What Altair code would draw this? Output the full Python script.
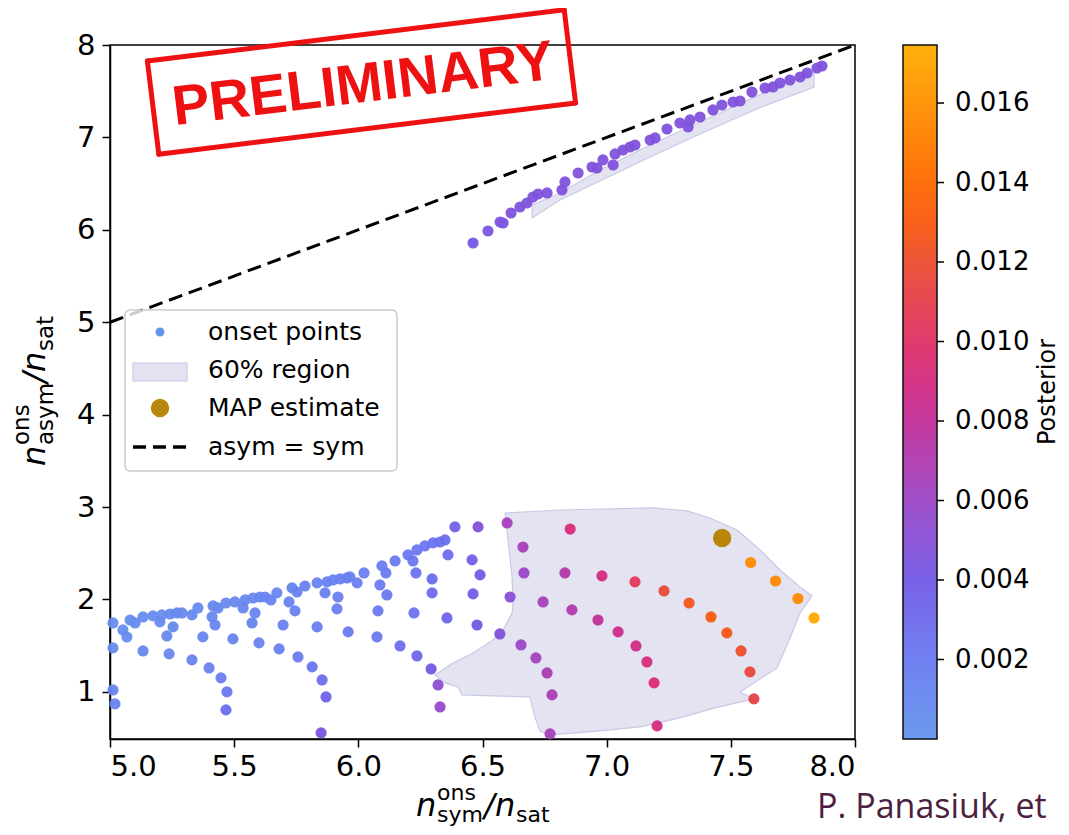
import altair as alt
import pandas as pd

# ---------------- data ----------------
# lower cluster, left part (upper envelope and nearby)
A_x = [5.012,5.052,5.068,5.081,5.101,5.133,5.173,5.201,5.209,5.242,5.270,5.290,5.330,5.354,5.411,5.415,5.423,5.435,5.467,5.503,
       5.536,5.544,5.576,5.584,5.604,5.624,5.648,5.672,5.721,5.733,5.745,5.753,5.785,5.834,5.866,5.874,5.898,5.918,5.926,5.954,
       5.966,5.995,6.023,6.087,6.095,6.111,6.115,6.148,6.200,6.220,6.232,6.236,6.268,6.297,6.297,6.301,6.329,6.349,6.361,6.389,
       6.458,6.462,6.478,6.482,6.490,6.599,6.611,6.570]
A_y = [1.746,1.670,1.594,1.778,1.746,1.811,1.822,1.757,1.833,1.843,1.854,1.854,1.833,1.908,1.811,1.930,1.724,1.908,1.962,1.973,
       1.908,1.995,2.016,1.854,2.027,2.027,1.995,2.071,1.973,2.125,1.876,2.081,2.146,2.179,2.071,2.190,2.211,2.027,2.222,2.233,
       2.244,2.179,2.287,2.157,2.363,2.287,2.049,2.417,2.482,2.417,2.287,2.536,2.579,2.222,2.071,2.612,2.622,2.644,2.482,2.785,
       2.428,2.060,1.724,2.785,2.266,2.828,2.027,1.627]
A_p = [0.0006,0.0007,0.0007,0.0006,0.0007,0.0007,0.0007,0.0008,0.0007,0.0008,0.0008,0.0008,0.0009,0.0008,0.0010,0.0009,0.0011,0.0009,0.0009,0.0010,
       0.0011,0.0010,0.0010,0.0012,0.0011,0.0011,0.0012,0.0011,0.0013,0.0012,0.0014,0.0013,0.0013,0.0013,0.0015,0.0014,0.0014,0.0016,0.0014,0.0015,
       0.0015,0.0016,0.0016,0.0019,0.0018,0.0019,0.0021,0.0019,0.0020,0.0022,0.0024,0.0022,0.0023,0.0027,0.0029,0.0024,0.0025,0.0026,0.0028,0.0035,
       0.0036,0.0038,0.0042,0.0048,0.0038,0.0065,0.0052,0.0048]

# lower cluster, descending arcs on the left
B_x = [5.012,5.133,5.238,5.229,5.254,5.330,5.374,5.399,5.447,5.471,5.467,5.495,5.572,5.600,5.681,5.697,5.757,5.814,5.834,5.854,
       5.870,5.850,5.914,5.959,6.075,6.079,6.168,6.224,6.236,6.293,6.321,6.329,6.357,5.012,5.020]
B_y = [1.476,1.443,1.411,1.605,1.703,1.346,1.595,1.259,1.151,1.000,0.805,1.573,1.746,1.530,1.465,1.724,1.378,1.270,1.703,1.129,
       0.945,0.556,1.898,1.649,1.595,1.876,1.497,1.854,1.389,1.248,1.075,0.837,1.800,1.021,0.870]
B_p = [0.0008,0.0009,0.0010,0.0009,0.0009,0.0012,0.0011,0.0014,0.0018,0.0022,0.0028,0.0012,0.0012,0.0014,0.0016,0.0014,0.0019,0.0023,0.0016,0.0028,
       0.0034,0.0045,0.0016,0.0019,0.0022,0.0020,0.0028,0.0025,0.0033,0.0042,0.0052,0.0058,0.0032,0.0012,0.0014]

# lower cluster, right part (pink / red / orange)
C_x = [6.853,6.663,6.667,6.832,6.981,7.114,7.231,7.332,7.420,7.484,7.541,7.577,7.593,6.744,6.860,6.965,7.046,7.118,7.162,7.191,
       7.203,6.655,6.715,6.760,6.780,6.772,7.580,7.680,7.770,7.835]
C_y = [2.762,2.567,2.287,2.287,2.255,2.190,2.092,1.962,1.811,1.638,1.443,1.216,0.924,1.973,1.887,1.778,1.649,1.497,1.324,1.097,
       0.632,1.508,1.367,1.205,0.967,0.545,2.400,2.200,2.010,1.800]
C_p = [0.0092,0.0065,0.0060,0.0072,0.0090,0.0105,0.0118,0.0126,0.0131,0.0128,0.0121,0.0116,0.0112,0.0065,0.0071,0.0080,0.0085,0.0089,0.0092,0.0095,
       0.0090,0.0060,0.0064,0.0069,0.0068,0.0066,0.0157,0.0156,0.0157,0.0172]

# upper branch (close to asym = sym)
D_x = [6.462,6.522,6.571,6.583,6.615,6.651,6.679,6.703,6.724,6.760,6.820,6.832,6.885,6.941,6.961,6.985,7.026,7.034,7.066,7.094,
       7.114,7.175,7.195,7.243,7.295,7.328,7.336,7.376,7.428,7.464,7.509,7.537,7.585,7.638,7.670,7.698,7.738,7.779,7.807,7.847,7.867]
D_y = [5.857,5.987,6.085,6.074,6.182,6.247,6.290,6.355,6.388,6.399,6.431,6.518,6.615,6.680,6.669,6.756,6.702,6.821,6.864,6.896,
       6.918,6.972,6.994,7.091,7.156,7.113,7.189,7.221,7.297,7.351,7.383,7.394,7.491,7.535,7.546,7.589,7.621,7.654,7.697,7.751,7.773]
D_p = [0.0042,0.0044,0.0045,0.0045,0.0046,0.0046,0.0046,0.0047,0.0047,0.0047,0.0047,0.0047,0.0047,0.0047,0.0047,0.0047,0.0047,0.0047,0.0047,0.0047,
       0.0047,0.0047,0.0047,0.0047,0.0047,0.0047,0.0047,0.0047,0.0047,0.0047,0.0047,0.0047,0.0047,0.0047,0.0047,0.0047,0.0047,0.0047,0.0047,0.0047,0.0047]

# 60% credible region (two polygons)
R1_x = [6.591,6.812,7.187,7.324,7.416,7.525,7.618,7.698,7.779,7.827,7.779,7.730,7.686,7.537,7.593,7.436,7.295,7.134,6.973,6.772,
        6.731,6.711,6.691,6.417,6.401,6.349,6.309,6.381,6.462,6.542,6.583,6.619,6.623,6.619,6.603]
R1_y = [2.935,2.968,2.990,2.958,2.882,2.752,2.536,2.319,2.136,2.038,1.854,1.530,1.259,0.999,0.924,0.826,0.718,0.621,0.577,0.534,
        0.577,0.729,0.945,0.967,1.054,1.097,1.183,1.313,1.421,1.562,1.670,1.854,1.962,2.244,2.644]
R2_x = [6.700,6.812,6.973,7.175,7.376,7.614,7.835,7.835,7.614,7.376,7.175,6.973,6.812,6.700]
R2_y = [6.268,6.398,6.647,6.918,7.167,7.459,7.708,7.545,7.318,7.037,6.788,6.528,6.323,6.128]

MAP_X = [7.465]
MAP_Y = [2.665]
DIAG_X = [5.0, 8.0]
DIAG_Y = [5.0, 8.0]

X_TICKS = [5.0, 5.5, 6.0, 6.5, 7.0, 7.5, 8.0]
Y_TICKS = [1, 2, 3, 4, 5, 6, 7, 8]
CB_TICKS = [0.002, 0.004, 0.006, 0.008, 0.010, 0.012, 0.014, 0.016]
P_MAX = 0.01746
STOPS = [0.0, 0.002, 0.004, 0.006, 0.008, 0.0095, 0.0115, 0.0135, P_MAX]
STOP_COLORS = ["#6495ED", "#6A7AF0", "#7159E6", "#9C46C6", "#C22E98", "#DC2A74", "#E6463E", "#FF5F00", "#FFAD00"]
LEG_LABELS = ["onset points", "60% region", "MAP estimate", "asym = sym"]

FONT = "DejaVu Sans"

# ---------------- tables ----------------
pts = pd.DataFrame({"x": A_x + B_x + C_x + D_x,
                    "y": A_y + B_y + C_y + D_y,
                    "p": A_p + B_p + C_p + D_p})
reg = pd.DataFrame({"x": R1_x + R2_x, "y": R1_y + R2_y,
                    "g": ["a"] * len(R1_x) + ["b"] * len(R2_x),
                    "i": list(range(len(R1_x))) + list(range(len(R2_x)))})
mapdf = pd.DataFrame({"x": MAP_X, "y": MAP_Y})
diag = pd.DataFrame({"x": DIAG_X, "y": DIAG_Y})
one = pd.DataFrame({"a": [0]})

xs = alt.Scale(domain=[5, 8], nice=False, zero=False)
ys = alt.Scale(domain=[0.49, 8], nice=False, zero=False)
X = alt.X("x:Q", scale=xs, axis=alt.Axis(values=X_TICKS, format=".1f", title=None, labelPadding=5))
Y = alt.Y("y:Q", scale=ys, axis=alt.Axis(values=Y_TICKS, format="d", title=None, labelPadding=7))

region = alt.Chart(reg).mark_line(interpolate="linear-closed", fill="#E3E3F2", stroke="#C9C9E6",
                                  strokeWidth=1.2).encode(x=X, y=Y, order="i:Q", detail="g:N")

points = alt.Chart(pts).mark_circle(size=125, opacity=0.95).encode(
    x=X, y=Y,
    color=alt.Color("p:Q",
                    scale=alt.Scale(domain=STOPS, range=STOP_COLORS, interpolate="rgb"),
                    legend=alt.Legend(orient="none", legendX=793, legendY=0, direction="vertical",
                                      gradientLength=694, gradientThickness=34, values=CB_TICKS,
                                      format=".3f", labelFont=FONT, labelFontSize=26, labelOffset=18,
                                      labelColor="black", title=None, gradientStrokeColor="black",
                                      gradientStrokeWidth=1.5, labelOverlap=False)))

mappt = alt.Chart(mapdf).mark_circle(size=336, color="#B8860B", opacity=1).encode(x=X, y=Y)
diagline = alt.Chart(diag).mark_line(color="black", strokeDash=[14, 7], strokeWidth=3).encode(x=X, y=Y)

inner = alt.layer(region, points, mappt, diagline)

# colorbar tick marks
cbt = alt.Chart(pd.DataFrame({"v": CB_TICKS})).mark_rule(color="black", strokeWidth=1.5).encode(
    x=alt.value(827), x2=alt.value(834),
    y=alt.Y("v:Q", scale=alt.Scale(domain=[0, P_MAX], nice=False), axis=None))

# in-plot legend
layers = []
layers.append(alt.Chart(one).mark_rect(cornerRadius=5, fill="white", fillOpacity=0.8, stroke="#CCCCCC",
                                       strokeWidth=1.5).encode(x=alt.value(15), x2=alt.value(287),
                                                               y=alt.value(265), y2=alt.value(426)))
layers.append(alt.Chart(one).mark_circle(size=80, color="#6495ED", opacity=1).encode(x=alt.value(50), y=alt.value(287)))
layers.append(alt.Chart(one).mark_rect(fill="#E3E3F2", stroke="#C9C9E6", strokeWidth=1.2).encode(
    x=alt.value(23), x2=alt.value(77), y=alt.value(318), y2=alt.value(336)))
layers.append(alt.Chart(one).mark_circle(size=336, color="#B8860B", opacity=1).encode(x=alt.value(50), y=alt.value(363)))
layers.append(alt.Chart(one).mark_rule(color="black", strokeDash=[13, 7], strokeWidth=3.5).encode(
    x=alt.value(23), x2=alt.value(77), y=alt.value(402)))
for lab, yy in zip(LEG_LABELS, [287, 325, 363, 402]):
    layers.append(alt.Chart(one).mark_text(text=lab, font=FONT, fontSize=25, align="left", baseline="middle",
                                           color="black").encode(x=alt.value(98), y=alt.value(yy)))

# axis titles built from pieces (sub/superscripts)
def piece(txt, x, y, size, italic=False, angle=0):
    kw = dict(text=txt, font=FONT, fontSize=size, align="left", baseline="alphabetic", color="black")
    if italic:
        kw["fontStyle"] = "italic"
    if angle:
        kw["angle"] = angle
    return alt.Chart(one).mark_text(**kw).encode(x=alt.value(x), y=alt.value(y))

layers += [piece("n", 306, 771, 32, True), piece("ons", 327, 755, 22), piece("sym", 327, 777, 22),
           piece("/", 374, 771, 32, True), piece("n", 385, 771, 32, True), piece("sat", 406, 777, 22)]
layers += [piece("n", -65, 421, 32, True, 270), piece("ons", -81, 400, 23, False, 270),
           piece("asym", -57, 400, 23, False, 270), piece("/", -65, 338, 32, True, 270),
           piece("n", -65, 327, 32, True, 270), piece("sat", -57, 306, 23, False, 270)]

layers.append(alt.Chart(one).mark_text(text="Posterior", font=FONT, fontSize=24, angle=270, align="center",
                                       baseline="alphabetic", color="black").encode(x=alt.value(945), y=alt.value(347)))

# stamp
RED = "#EE1111"
corners = [(37.4, 16.0), (454.2, -35.2), (465.6, 58.0), (48.8, 109.2)]
for k in range(4):
    (x1, y1), (x2, y2) = corners[k], corners[(k + 1) % 4]
    layers.append(alt.Chart(one).mark_rule(color=RED, strokeWidth=5, strokeCap="round").encode(
        x=alt.value(x1), y=alt.value(y1), x2=alt.value(x2), y2=alt.value(y2)))
layers.append(alt.Chart(one).mark_text(text="PRELIMINARY", font="Liberation Sans Narrow, Liberation Sans",
                                       fontWeight="bold", fontSize=56, angle=353, align="center", baseline="middle",
                                       color=RED).encode(x=alt.value(253), y=alt.value(40)))

layers.append(alt.Chart(one).mark_text(text="P. Panasiuk, et", font="Open Sans", fontSize=34, align="left",
                                       baseline="alphabetic", color="#4B2040").encode(x=alt.value(707), y=alt.value(773)))

chart = alt.layer(inner, cbt, *layers).resolve_scale(y="independent").properties(
    width=745, height=694,
    autosize=alt.AutoSizeParams(type="none"),
    padding={"left": 102, "top": 37, "right": 205, "bottom": 88},
).configure_view(stroke="black", strokeWidth=1.5).configure_axis(
    labelFont=FONT, labelFontSize=29, labelColor="black", tickColor="black", tickSize=8, tickWidth=1.5,
    domainColor="black", domainWidth=1.5, grid=False
).configure_legend(gradientVerticalMaxLength=694)

chart.save("out.html", embed_options={"renderer": "svg", "actions": False})
